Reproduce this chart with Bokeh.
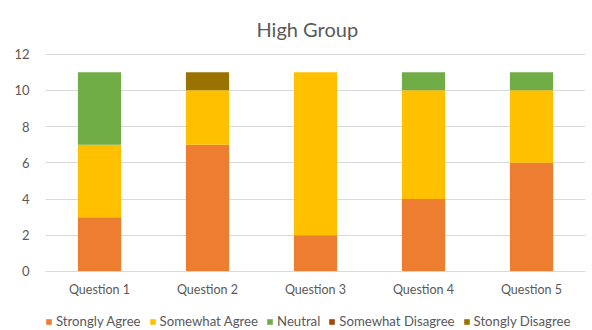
from bokeh.plotting import figure
from bokeh.models import Range1d, FixedTicker, Legend, LegendItem
from bokeh.embed import file_html
from bokeh.resources import INLINE

questions = ["Question 1", "Question 2", "Question 3", "Question 4", "Question 5"]
strongly_agree = [3, 7, 2, 4, 6]
somewhat_agree = [4, 3, 9, 6, 4]
neutral = [4, 0, 0, 1, 1]
somewhat_disagree = [0, 0, 0, 0, 0]
stongly_disagree = [0, 1, 0, 0, 0]

series_names = ["Strongly Agree", "Somewhat Agree", "Neutral", "Somewhat Disagree", "Stongly Disagree"]
series_colors = ["#ED7D31", "#FFC000", "#70AD47", "#9E480E", "#997300"]
y_ticks = [0, 2, 4, 6, 8, 10, 12]

FONT = "Lato"
TEXT = "#595959"
GRID = "#d9d9d9"

source = dict(
    q=questions,
    s0=strongly_agree,
    s1=somewhat_agree,
    s2=neutral,
    s3=somewhat_disagree,
    s4=stongly_disagree,
)

# the frame reaches the bottom edge; the space under zero holds the
# category labels and the legend
p = figure(
    x_range=questions,
    y_range=Range1d(-3.256, 12.03),
    width=592,
    height=330,
    output_backend="svg",
    toolbar_location=None,
    min_border_left=45,
    min_border_right=7,
    min_border_top=53,
    min_border_bottom=0,
    outline_line_color=None,
    title="High Group",
)

p.title.align = "left"
p.title.offset = 211
p.title.text_font = FONT
p.title.text_font_size = "20px"
p.title.text_font_style = "normal"
p.title.text_color = TEXT
p.title.standoff = 26

renderers = p.vbar_stack(
    ["s0", "s1", "s2", "s3", "s4"],
    x="q",
    width=0.4,
    color=series_colors,
    line_color=None,
    source=source,
)

p.xgrid.grid_line_color = None
p.ygrid.grid_line_color = GRID
p.ygrid.grid_line_width = 1
p.yaxis.ticker = FixedTicker(ticks=y_ticks)
p.yaxis.axis_line_color = None
p.yaxis.major_tick_line_color = None
p.yaxis.minor_tick_line_color = None
p.yaxis.major_label_standoff = 10
p.yaxis.major_label_text_font = FONT
p.yaxis.major_label_text_font_size = "13px"
p.yaxis.major_label_text_color = TEXT

p.xaxis.fixed_location = 0
p.xaxis.axis_line_color = GRID
p.xaxis.major_tick_line_color = None
p.xaxis.minor_tick_line_color = None
p.xaxis.major_tick_out = 0
p.xaxis.major_label_standoff = 11
p.xaxis.major_label_text_font = FONT
p.xaxis.major_label_text_font_size = "12.5px"
p.xaxis.major_label_text_color = TEXT

legend = Legend(
    items=[LegendItem(label=n, renderers=[r]) for n, r in zip(series_names, renderers)],
    orientation="horizontal",
    location=(0, 1),
    padding=0,
    margin=0,
    spacing=8,
    glyph_width=7,
    glyph_height=7,
    label_standoff=4,
    label_height=14,
    label_text_font=FONT,
    label_text_font_size="13.2px",
    label_text_color=TEXT,
    background_fill_alpha=0,
    border_line_alpha=0,
)
p.add_layout(legend, "center")

open("out.html", "w").write(file_html(p, INLINE))
